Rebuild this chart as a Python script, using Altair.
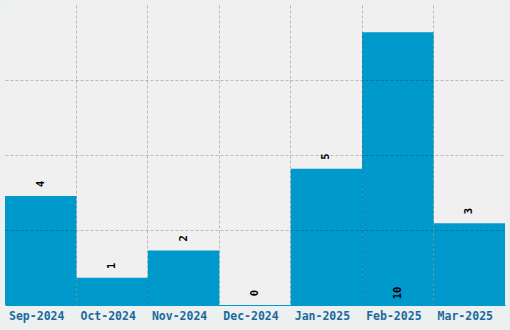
import altair as alt
import pandas as pd

months = ["Sep-2024", "Oct-2024", "Nov-2024", "Dec-2024", "Jan-2025", "Feb-2025", "Mar-2025"]
values = [4, 1, 2, 0, 5, 10, 3]

df = pd.DataFrame({"month": months, "value": values})

FONT = "DejaVu Sans Mono"
ymax = 11

x = alt.X(
    "month:N",
    sort=months,
    title=None,
    scale=alt.Scale(paddingInner=0, paddingOuter=0),
    axis=alt.Axis(
        labelAngle=0,
        labelFont=FONT,
        labelFontWeight="bold",
        labelFontSize=11.5,
        labelColor="#1b6a9c",
        labelPadding=5,
        labelOffset=-4,
        ticks=False,
        domain=True,
        domainColor="#0099cc",
        domainWidth=1,
        grid=True,
        bandPosition=0,
        gridColor="#000000",
        gridOpacity={"condition": {"test": "datum.value == 'Sep-2024'", "value": 0}, "value": 0.22},
        gridDash=[3, 2],
        zindex=1,
    ),
)

y_axis = alt.Axis(
    labels=False,
    ticks=False,
    domain=False,
    title=None,
    grid=True,
    values=[ymax / 4, ymax / 2, 3 * ymax / 4],
    gridColor="#000000",
    gridOpacity=0.22,
    gridDash=[3, 2],
    zindex=1,
)

base = alt.Chart(df)

bars = base.mark_bar(color="#0099cc", strokeWidth=0).encode(
    x=x,
    y=alt.Y("value:Q", scale=alt.Scale(domain=[0, ymax], nice=False), axis=y_axis),
)

labels = base.transform_joinaggregate(
    vmax="max(value)"
).transform_calculate(
    pos="datum.value == datum.vmax ? 0 : datum.value"
).mark_text(
    angle=270,
    align="center",
    baseline="middle",
    dx=12,
    font=FONT,
    fontWeight="bold",
    fontSize=10.5,
    color="#000000",
).encode(
    x=alt.X("month:N", sort=months),
    y=alt.Y("pos:Q"),
    text=alt.Text("value:Q"),
)

chart = (
    alt.layer(bars, labels)
    .properties(
        width=500,
        height=300,
        background="#ecf0f1",
        padding={"left": 5, "top": 5, "right": 5, "bottom": 25},
        autosize=alt.AutoSizeParams(type="none"),
    )
    .configure_view(fill="#f0f0f0", stroke=None)
)

chart.save("out.html", embed_options={"renderer": "svg", "actions": False})
